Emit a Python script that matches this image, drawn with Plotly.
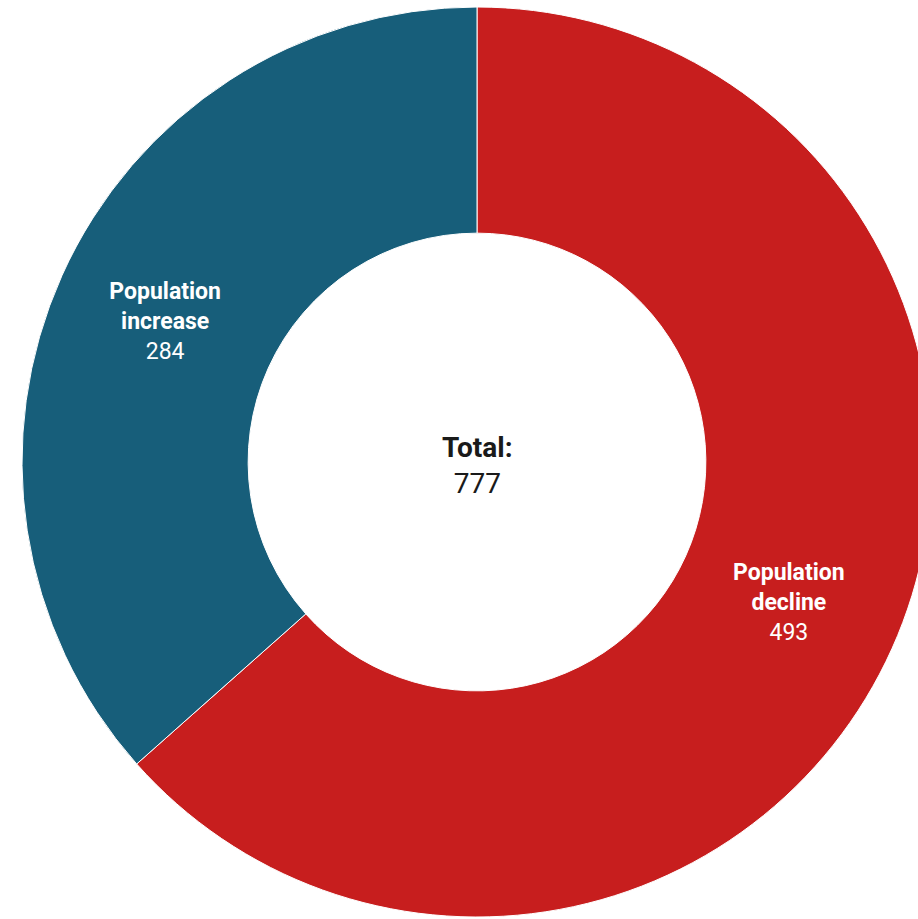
import plotly.graph_objects as go

categories = ["Population decline", "Population increase"]
display_names = ["Population<br>decline", "Population<br>increase"]
values = [493, 284]
colors = ["#C71E1E", "#175E7A"]
total_label = "Total:"

W, H = 940, 919
cx, cy, r = 477, 462, 455

fig = go.Figure(go.Pie(
    labels=categories,
    values=values,
    customdata=display_names,
    texttemplate="<b>%{customdata}</b><br>%{value}",
    textposition="inside",
    insidetextorientation="horizontal",
    textfont=dict(family="Roboto", size=23, color="white"),
    hole=0.503,
    sort=False,
    direction="clockwise",
    rotation=0,
    marker=dict(colors=colors, line=dict(color="white", width=1)),
    hoverinfo="skip",
    showlegend=False,
    domain=dict(x=[(cx - r) / W, (cx + r) / W],
                y=[(H - cy - r) / H, (H - cy + r) / H]),
))

fig.add_annotation(
    x=cx / W, y=(H - cy - 3) / H, xref="paper", yref="paper",
    text=f"<b>{total_label}</b><br>{sum(values)}",
    showarrow=False, font=dict(family="Roboto", size=28, color="#1a1a1a"),
)

fig.update_layout(
    width=W, height=H,
    margin=dict(l=0, r=0, t=0, b=0),
    paper_bgcolor="white", plot_bgcolor="white",
)

fig.write_html(
    "out.html",
    config={"displayModeBar": False},
    post_script="document.body.style.margin='0';document.body.style.overflow='hidden';",
)
